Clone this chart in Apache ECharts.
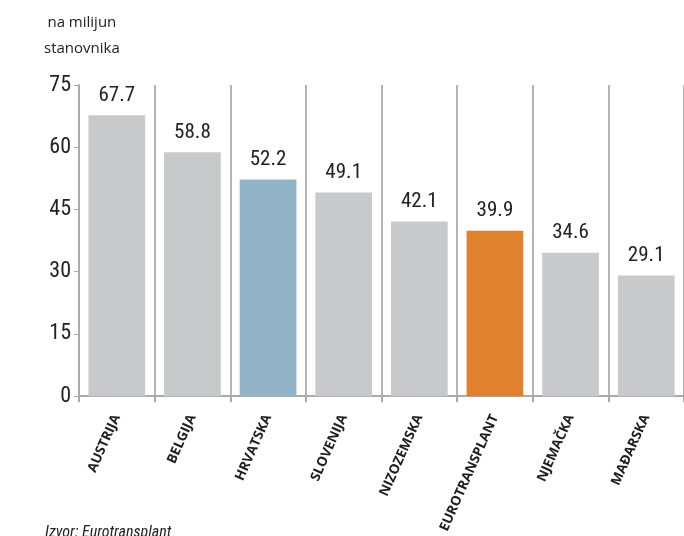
<!DOCTYPE html>
<html><head><meta charset="utf-8">
<script src="https://cdn.jsdelivr.net/npm/echarts@6/dist/echarts.min.js"></script>
<style>html,body{margin:0;padding:0;background:#fff;overflow:hidden}#c{width:684px;height:536px}</style>
</head><body><div id="c"></div>
<script>
const categories = ['AUSTRIJA','BELGIJA','HRVATSKA','SLOVENIJA','NIZOZEMSKA','EUROTRANSPLANT','NJEMAČKA','MAĐARSKA'];
const values = [67.7, 58.8, 52.2, 49.1, 42.1, 39.9, 34.6, 29.1];
const barColors = ['#c8c9cb','#c8c9cb','#93b3c9','#c8c9cb','#c8c9cb','#e0812e','#c8c9cb','#c8c9cb'];
const yTicks = {min:0, max:75, interval:15};
const unitLabel = 'na milijun\nstanovnika';
const sourceText = 'Izvor: Eurotransplant';

const cond = '"Roboto Condensed","Liberation Sans Narrow",sans-serif';
const chart = echarts.init(document.getElementById('c'));
chart.setOption({
  animation:false,
  graphic:[
    {type:'text', left:44, top:10, style:{text:unitLabel, font:'15px "Open Sans", sans-serif', fill:'#222', lineHeight:26, textAlign:'center'}},
    {type:'text', left:45, top:525, style:{text:sourceText, font:'italic 16px "Roboto Condensed", sans-serif', fill:'#222'}}
  ],
  grid:{left:79, top:85, width:613, height:315, containLabel:false},
  xAxis:{
    type:'category', data:categories,
    axisLine:{lineStyle:{color:'#aaaaaa', width:2}},
    axisTick:{show:true, length:6, lineStyle:{color:'#aaaaaa', width:2}},
    splitLine:{show:true, lineStyle:{color:'#b4b4b4', width:2}},
    axisLabel:{rotate:66, margin:19, color:'#1e1e1e', fontWeight:'bold', fontSize:13.5, fontFamily:'"Open Sans", sans-serif', interval:0}
  },
  yAxis:{
    type:'value', min:yTicks.min, max:yTicks.max, interval:yTicks.interval,
    axisLine:{show:true, lineStyle:{color:'#aaaaaa', width:2}},
    axisTick:{show:true, length:5, lineStyle:{color:'#aaaaaa', width:1}},
    splitLine:{show:false},
    axisLabel:{color:'#222', fontSize:22, fontFamily:cond, margin:8}
  },
  series:[{
    type:'bar', barWidth:'75%',
    data: values.map((v,i)=>({value:v, itemStyle:{color:barColors[i]}})),
    label:{show:true, position:'top', distance:9, color:'#222', fontSize:21, fontFamily:cond}
  }]
});
</script></body></html>
